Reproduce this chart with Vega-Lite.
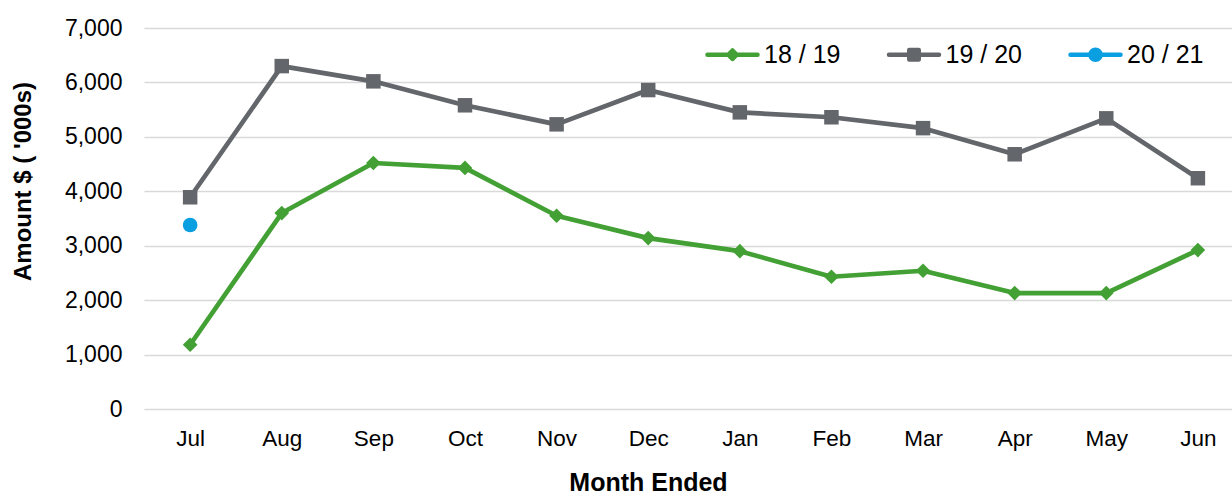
{
  "$schema": "https://vega.github.io/schema/vega-lite/v6.json",
  "width": 1088,
  "height": 381,
  "autosize": "none",
  "padding": {"left": 144, "top": 28, "right": 0, "bottom": 87},
  "background": "white",
  "config": {
    "view": {"stroke": null},
    "font": "Liberation Sans"
  },
  "data": {
    "values": [
      {"month": "Jul", "series": "18 / 19", "value": 1180},
      {"month": "Aug", "series": "18 / 19", "value": 3600},
      {"month": "Sep", "series": "18 / 19", "value": 4520},
      {"month": "Oct", "series": "18 / 19", "value": 4430},
      {"month": "Nov", "series": "18 / 19", "value": 3550},
      {"month": "Dec", "series": "18 / 19", "value": 3140},
      {"month": "Jan", "series": "18 / 19", "value": 2900},
      {"month": "Feb", "series": "18 / 19", "value": 2430},
      {"month": "Mar", "series": "18 / 19", "value": 2540},
      {"month": "Apr", "series": "18 / 19", "value": 2130},
      {"month": "May", "series": "18 / 19", "value": 2130},
      {"month": "Jun", "series": "18 / 19", "value": 2920},
      {"month": "Jul", "series": "19 / 20", "value": 3890},
      {"month": "Aug", "series": "19 / 20", "value": 6300},
      {"month": "Sep", "series": "19 / 20", "value": 6020},
      {"month": "Oct", "series": "19 / 20", "value": 5580},
      {"month": "Nov", "series": "19 / 20", "value": 5230},
      {"month": "Dec", "series": "19 / 20", "value": 5860},
      {"month": "Jan", "series": "19 / 20", "value": 5450},
      {"month": "Feb", "series": "19 / 20", "value": 5360},
      {"month": "Mar", "series": "19 / 20", "value": 5160},
      {"month": "Apr", "series": "19 / 20", "value": 4680},
      {"month": "May", "series": "19 / 20", "value": 5340},
      {"month": "Jun", "series": "19 / 20", "value": 4240},
      {"month": "Jul", "series": "20 / 21", "value": 3380}
    ]
  },
  "encoding": {
    "x": {
      "field": "month",
      "type": "ordinal",
      "sort": ["Jul","Aug","Sep","Oct","Nov","Dec","Jan","Feb","Mar","Apr","May","Jun"],
      "scale": {"type": "point", "padding": 0.438, "align": 0.575},
      "axis": {
        "title": "Month Ended",
        "titleFont": "Liberation Sans",
        "titleFontSize": 25,
        "titleFontWeight": "bold",
        "titleColor": "#000000",
        "titleX": 504,
        "titleY": 73,
        "titleBaseline": "middle",
        "labelFont": "Liberation Sans",
        "labelFontSize": 22.5,
        "labelColor": "#000000",
        "labelPadding": 18,
        "labelAngle": 0,
        "ticks": false,
        "tickSize": 0,
        "domain": false,
        "grid": false
      }
    },
    "y": {
      "field": "value",
      "type": "quantitative",
      "scale": {"domain": [0, 7000], "nice": false},
      "axis": {
        "title": "Amount $ ( '000s)",
        "titleFont": "Liberation Sans",
        "titleFontSize": 24,
        "titleFontWeight": "bold",
        "titleColor": "#000000",
        "titleAngle": -90,
        "titleX": -121,
        "titleY": 153,
        "titleBaseline": "middle",
        "titleAlign": "center",
        "values": [0, 1000, 2000, 3000, 4000, 5000, 6000, 7000],
        "format": ",.0f",
        "labelFont": "Liberation Sans",
        "labelFontSize": 23,
        "labelColor": "#000000",
        "labelPadding": 22,
        "ticks": false,
        "tickSize": 0,
        "domain": false,
        "grid": true,
        "gridColor": "#d9d9d9",
        "gridWidth": 1.5
      }
    },
    "color": {
      "field": "series",
      "type": "nominal",
      "scale": {
        "domain": ["18 / 19", "19 / 20", "20 / 21"],
        "range": ["#43A034", "#63666A", "#0A9FE0"]
      }
    }
  },
  "layer": [
    {
      "mark": {"type": "line", "strokeWidth": 4.7, "strokeJoin": "round"},
      "encoding": {
        "color": {
          "field": "series",
          "type": "nominal",
          "legend": {
            "title": null,
            "orient": "none",
            "direction": "horizontal",
            "legendX": 561,
            "legendY": -1,
            "padding": 0,
            "symbolSize": 2500,
            "symbolStrokeWidth": 4.5,
            "labelFont": "Liberation Sans",
            "labelFontSize": 25,
            "labelColor": "#000000",
            "labelOffset": 4,
            "columnPadding": 45.5,
            "encode": {
              "symbols": {
                "update": {
                  "shape": {"signal": "datum.value === '18 / 19' ? 'M-1,0H1M0,-0.17L0.17,0L0,0.17L-0.17,0Z' : (datum.value === '19 / 20' ? 'M-1,0H1M-0.19,-0.19H0.19V0.19H-0.19Z' : 'M-1,0H1M-0.2,0A0.2,0.2 0 1,0 0.2,0A0.2,0.2 0 1,0 -0.2,0Z')"},
                  "fill": {"scale": "color", "field": "value"},
                  "stroke": {"scale": "color", "field": "value"},
                  "strokeWidth": {"value": 4.5},
                  "strokeCap": {"value": "round"},
                  "strokeJoin": {"value": "round"},
                  "opacity": {"value": 1}
                }
              }
            }
          }
        }
      }
    },
    {
      "transform": [{"filter": "datum.series === '18 / 19'"}],
      "mark": {"type": "point", "filled": true, "opacity": 1, "size": 215, "shape": "diamond"}
    },
    {
      "transform": [{"filter": "datum.series === '19 / 20'"}],
      "mark": {"type": "point", "filled": true, "opacity": 1, "size": 210, "shape": "square"}
    },
    {
      "transform": [{"filter": "datum.series === '20 / 21'"}],
      "mark": {"type": "point", "filled": true, "opacity": 1, "size": 215, "shape": "circle"}
    }
  ]
}
